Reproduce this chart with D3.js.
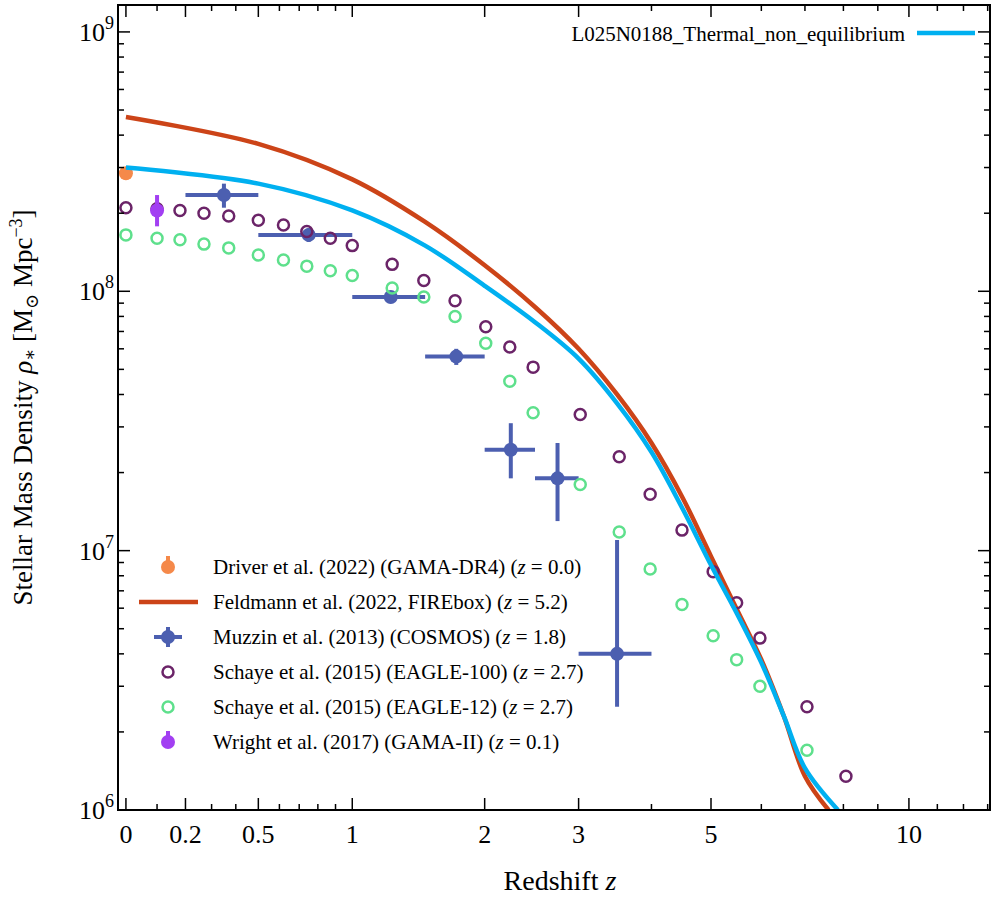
<!DOCTYPE html>
<html><head><meta charset="utf-8">
<script src="https://cdn.jsdelivr.net/npm/d3@7"></script>
<style>body{margin:0;background:#fff}text{font-family:"Liberation Serif","DejaVu Serif",serif}</style>
</head><body><svg id="c" width="996" height="900"></svg>
<script>
// data
const simZ = [0, 0.5, 1, 1.5, 2, 2.5, 3, 3.5, 4, 4.5, 5, 5.5, 6, 6.5, 7, 7.85];
const simRho = [3.0e8, 2.6e8, 2.05e8, 1.5e8, 1.05e8, 7.6e7, 5.5e7, 3.7e7, 2.4e7, 1.45e7, 8.8e6, 5.7e6, 3.7e6, 2.3e6, 1.45e6, 1.0e6];
const feldZ = [0, 0.5, 1, 1.5, 2, 2.5, 3, 3.5, 4, 4.5, 5, 5.5, 6, 6.5, 7, 7.6];
const feldRho = [4.7e8, 3.7e8, 2.7e8, 1.85e8, 1.26e8, 8.7e7, 6.0e7, 4.0e7, 2.6e7, 1.6e7, 9.5e6, 5.9e6, 3.8e6, 2.3e6, 1.35e6, 1.0e6];
const muzZ = [0.35, 0.75, 1.25, 1.75, 2.25, 2.75, 3.5];
const muzLo = [0.2, 0.5, 1.0, 1.5, 2.0, 2.5, 3.0];
const muzHi = [0.5, 1.0, 1.5, 2.0, 2.5, 3.0, 4.0];
const muzRho = [2.35e8, 1.65e8, 9.5e7, 5.6e7, 2.45e7, 1.9e7, 4.0e6];
const muzRhoLo = [2.1e8, 1.55e8, 9.0e7, 5.2e7, 1.9e7, 1.3e7, 2.5e6];
const muzRhoHi = [2.6e8, 1.75e8, 1.0e8, 6.0e7, 3.1e7, 2.6e7, 1.1e7];
const eagZ = [0, 0.1, 0.18, 0.27, 0.37, 0.5, 0.62, 0.74, 0.87, 1.0, 1.26, 1.49, 1.74, 2.01, 2.24, 2.48, 3.02, 3.53, 3.98, 4.49, 5.04, 5.49, 5.97, 7.05, 8.07];
const eag100 = [2.1e8, 2.08e8, 2.05e8, 2.0e8, 1.95e8, 1.88e8, 1.8e8, 1.7e8, 1.6e8, 1.5e8, 1.27e8, 1.1e8, 9.2e7, 7.3e7, 6.1e7, 5.1e7, 3.35e7, 2.3e7, 1.65e7, 1.2e7, 8.3e6, 6.3e6, 4.6e6, 2.5e6, 1.35e6];
const eag12 = [1.65e8, 1.6e8, 1.58e8, 1.52e8, 1.47e8, 1.38e8, 1.32e8, 1.25e8, 1.2e8, 1.15e8, 1.03e8, 9.5e7, 8e7, 6.3e7, 4.5e7, 3.4e7, 1.8e7, 1.18e7, 8.5e6, 6.2e6, 4.7e6, 3.8e6, 3.0e6, 1.7e6];
const driver = {z: 0, rho: 2.85e8};
const wright = {z: 0.1, rho: 2.05e8, lo: 1.78e8, hi: 2.35e8};
const xTicks = [0, 0.2, 0.5, 1, 2, 3, 5, 10];
const xMinor = [0.1, 0.3, 0.4, 0.6, 0.7, 0.8, 0.9, 4, 6, 7, 8, 9, 11, 12, 13];

const L = 118, R = 990, T = 5, B = 810;
const svg = d3.select('#c');
const lx = d3.scaleLog().domain([0.976, 14.1]).range([L, R]);
const x = z => lx(1 + z);
const y = d3.scaleLog().domain([1e6, 1.27e9]).range([B, T]);

const g = svg.append('g');
g.append('defs').append('clipPath').attr('id', 'clip').append('rect')
  .attr('x', L).attr('y', T).attr('width', R - L).attr('height', B - T);
const plot = g.append('g').attr('clip-path', 'url(#clip)');

const cBlue = '#00b0f0', cRed = '#cc4418', cMuz = '#4c5fb0', cE100 = '#6b2468', cE12 = '#5ee08c', cDrv = '#f5894a', cWr = '#a23ff2';

const line = d3.line().x(d => x(d[0])).y(d => y(d[1])).curve(d3.curveCatmullRom);
plot.append('path').datum(d3.zip(feldZ, feldRho)).attr('d', line)
  .attr('fill', 'none').attr('stroke', cRed).attr('stroke-width', 4.5);

// Muzzin
muzZ.forEach((z, i) => {
  plot.append('line').attr('x1', x(muzLo[i])).attr('x2', x(muzHi[i])).attr('y1', y(muzRho[i])).attr('y2', y(muzRho[i]))
    .attr('stroke', cMuz).attr('stroke-width', 4);
  plot.append('line').attr('x1', x(z)).attr('x2', x(z)).attr('y1', y(muzRhoLo[i])).attr('y2', y(muzRhoHi[i]))
    .attr('stroke', cMuz).attr('stroke-width', 4);
  plot.append('circle').attr('cx', x(z)).attr('cy', y(muzRho[i])).attr('r', 7).attr('fill', cMuz);
});
eagZ.forEach((z, i) => {
  plot.append('circle').attr('cx', x(z)).attr('cy', y(eag100[i])).attr('r', 5.5)
    .attr('fill', 'none').attr('stroke', cE100).attr('stroke-width', 2.5);
  if (i < eag12.length) plot.append('circle').attr('cx', x(z)).attr('cy', y(eag12[i])).attr('r', 5.5)
    .attr('fill', 'none').attr('stroke', cE12).attr('stroke-width', 2.5);
});
plot.append('circle').attr('cx', x(driver.z)).attr('cy', y(driver.rho)).attr('r', 7).attr('fill', cDrv);
plot.append('line').attr('x1', x(wright.z)).attr('x2', x(wright.z)).attr('y1', y(wright.lo)).attr('y2', y(wright.hi))
  .attr('stroke', cWr).attr('stroke-width', 4);
plot.append('circle').attr('cx', x(wright.z)).attr('cy', y(wright.rho)).attr('r', 7).attr('fill', cWr);

plot.append('path').datum(d3.zip(simZ, simRho)).attr('d', line)
  .attr('fill', 'none').attr('stroke', cBlue).attr('stroke-width', 4.5);

// frame and ticks
g.append('rect').attr('x', L).attr('y', T).attr('width', R - L).attr('height', B - T)
  .attr('fill', 'none').attr('stroke', '#000').attr('stroke-width', 2);
const tick = (x1, y1, x2, y2) => g.append('line').attr('x1', x1).attr('y1', y1).attr('x2', x2).attr('y2', y2)
  .attr('stroke', '#000').attr('stroke-width', 1.5);
xTicks.forEach(z => {
  tick(x(z), B, x(z), B - 12); tick(x(z), T, x(z), T + 12);
  g.append('text').attr('x', x(z)).attr('y', B + 33).attr('text-anchor', 'middle').attr('font-size', 26).text(z);
});
xMinor.forEach(z => { tick(x(z), B, x(z), B - 6); tick(x(z), T, x(z), T + 6); });
[6, 7, 8, 9].forEach(e => {
  const v = Math.pow(10, e);
  tick(L, y(v), L + 12, y(v)); tick(R, y(v), R - 12, y(v));
  const t = g.append('text').attr('x', L - 4).attr('y', y(v) + 9).attr('text-anchor', 'end').attr('font-size', 26);
  t.append('tspan').text('10');
  t.append('tspan').attr('dy', -12).attr('font-size', 18).text(e);
  for (let m = 2; m <= 9; m++) {
    const w = m * v;
    if (w > y.domain()[1]) break;
    tick(L, y(w), L + 6, y(w)); tick(R, y(w), R - 6, y(w));
  }
});

// axis labels
const xl = g.append('text').attr('x', 560).attr('y', 890).attr('text-anchor', 'middle').attr('font-size', 28);
xl.append('tspan').text('Redshift ');
xl.append('tspan').attr('font-style', 'italic').text('z');
const yl = g.append('text').attr('transform', `translate(32,${(T + B) / 2}) rotate(-90)`).attr('text-anchor', 'middle').attr('font-size', 27);
yl.append('tspan').text('Stellar Mass Density ');
yl.append('tspan').attr('font-style', 'italic').text('ρ');
yl.append('tspan').attr('dy', 4).attr('font-size', 18).text('∗');
yl.append('tspan').attr('dy', -4).text('  [M');
yl.append('tspan').attr('dy', 6).attr('font-size', 18).text('⊙');
yl.append('tspan').attr('dy', -6).text(' Mpc');
yl.append('tspan').attr('dy', -10).attr('font-size', 18).text('−3');
yl.append('tspan').attr('dy', 10).text(']');

// top-right legend
g.append('text').attr('x', 905).attr('y', 41).attr('text-anchor', 'end').attr('font-size', 21).text('L025N0188_Thermal_non_equilibrium');
g.append('line').attr('x1', 917).attr('x2', 975).attr('y1', 33).attr('y2', 33).attr('stroke', cBlue).attr('stroke-width', 4.5);

// bottom-left legend
const leg = [
  {t: 'Driver et al. (2022) (GAMA-DR4)', z: '0.0', k: 'dot', c: cDrv},
  {t: 'Feldmann et al. (2022, FIREbox)', z: '5.2', k: 'line', c: cRed},
  {t: 'Muzzin et al. (2013) (COSMOS)', z: '1.8', k: 'cross', c: cMuz},
  {t: 'Schaye et al. (2015) (EAGLE-100)', z: '2.7', k: 'ring', c: cE100},
  {t: 'Schaye et al. (2015) (EAGLE-12)', z: '2.7', k: 'ring', c: cE12},
  {t: 'Wright et al. (2017) (GAMA-II)', z: '0.1', k: 'dot', c: cWr}
];
leg.forEach((d, i) => {
  const cy = 567 + i * 35, cx = 168;
  if (d.k === 'line') g.append('line').attr('x1', 139).attr('x2', 198).attr('y1', cy).attr('y2', cy).attr('stroke', d.c).attr('stroke-width', 4.5);
  if (d.k === 'cross') {
    g.append('line').attr('x1', 154).attr('x2', 182).attr('y1', cy).attr('y2', cy).attr('stroke', d.c).attr('stroke-width', 4);
    g.append('line').attr('x1', cx).attr('x2', cx).attr('y1', cy - 10).attr('y2', cy + 10).attr('stroke', d.c).attr('stroke-width', 4);
  }
  if (d.k === 'dot' || d.k === 'cross') {
    if (d.k === 'dot') g.append('line').attr('x1', cx).attr('x2', cx).attr('y1', cy - 11).attr('y2', cy + 4).attr('stroke', d.c).attr('stroke-width', 4);
    g.append('circle').attr('cx', cx).attr('cy', cy).attr('r', 7).attr('fill', d.c);
  }
  if (d.k === 'ring') g.append('circle').attr('cx', cx).attr('cy', cy).attr('r', 5.5).attr('fill', 'none').attr('stroke', d.c).attr('stroke-width', 2.5);
  const t = g.append('text').attr('x', 213).attr('y', cy + 7).attr('font-size', 21);
  t.append('tspan').text(d.t + ' (');
  t.append('tspan').attr('font-style', 'italic').text('z');
  t.append('tspan').text(' = ' + d.z + ')');
});
</script></body></html>
